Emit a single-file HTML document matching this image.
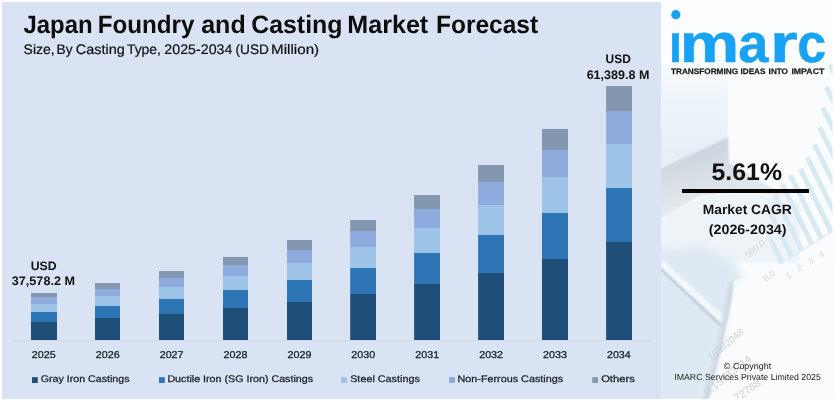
<!DOCTYPE html>
<html lang="en"><head><meta charset="utf-8"><title>Japan Foundry and Casting Market Forecast</title>
<style>
html,body{margin:0;padding:0;background:#fff;}
body{width:835px;height:401px;overflow:hidden;font-family:"Liberation Sans",sans-serif;}
svg{display:block;}
text{font-family:"Liberation Sans",sans-serif;}
.logo{font-weight:bold;fill:#17a2f3;stroke:#17a2f3;stroke-width:0.5px;}
</style></head>
<body>
<svg width="835" height="401" viewBox="0 0 835 401">
<defs>
<linearGradient id="rpg" x1="0" y1="0" x2="0" y2="1"><stop offset="0" stop-color="#fcfdfe"/><stop offset="1" stop-color="#f8fafc"/></linearGradient>
<linearGradient id="gf" gradientUnits="userSpaceOnUse" x1="690" y1="150" x2="705" y2="215"><stop offset="0" stop-color="#ccd4dd"/><stop offset="1" stop-color="#e9edf1"/></linearGradient>
<linearGradient id="tl" gradientUnits="userSpaceOnUse" x1="0" y1="62" x2="0" y2="170"><stop offset="0" stop-color="#fbfcfe"/><stop offset="0.35" stop-color="#edf4f9"/><stop offset="1" stop-color="#e6eff7"/></linearGradient>
<filter id="b1" x="-20%" y="-20%" width="140%" height="140%"><feGaussianBlur stdDeviation="1"/></filter>
<filter id="b4" x="-20%" y="-20%" width="140%" height="140%"><feGaussianBlur stdDeviation="4"/></filter>
<filter id="b6" x="-20%" y="-20%" width="140%" height="140%"><feGaussianBlur stdDeviation="6"/></filter>
<filter id="b2" x="-20%" y="-20%" width="140%" height="140%"><feGaussianBlur stdDeviation="2"/></filter>
<clipPath id="rp"><rect x="661" y="2" width="171.5" height="397"/></clipPath>
<clipPath id="nodot"><rect x="660" y="31" width="175" height="40"/></clipPath>
</defs>
<rect x="0" y="0" width="835" height="401" fill="#ffffff"/>
<rect x="2" y="2" width="659" height="397" fill="#dae3f3"/>
<!-- right panel -->
<g clip-path="url(#rp)">
<rect x="660" y="2" width="173" height="397" fill="#f7f9fb"/>
<rect x="660" y="0" width="175" height="401" fill="url(#rpg)"/>
<polygon points="655,62 728,62 728,137 655,171" fill="url(#tl)" filter="url(#b1)"/>
<polygon points="655,171 728,137 729,163 790,198 745,191 700,196 655,222" fill="url(#gf)" filter="url(#b1)"/>
<polygon points="655,223 700,197 745,192 800,202 800,262 655,262" fill="#eef3f8" filter="url(#b1)"/>
<polygon points="650,252 700,246 736,262 746,286 722,336 704,405 650,405" fill="#dfe9f3" filter="url(#b4)"/>
<line x1="650" y1="258.5" x2="722" y2="326" stroke="#b9c7d3" stroke-width="3" filter="url(#b1)"/>
<line x1="651" y1="253.5" x2="724" y2="321" stroke="#f4f8fb" stroke-width="6.5" filter="url(#b1)"/>
<path d="M733,282 C729,312 720,350 705,405" fill="none" stroke="#cbd7e2" stroke-width="7" filter="url(#b2)"/>
<path d="M734,280 C731,312 722,350 708,405 L835,405 L835,262 Z" fill="#f9fbfc" filter="url(#b1)"/>
<polygon points="766.9,238.0 771.3,235.7 784.2,261.6 779.8,264.3" fill="#d7eaf4"/>
<polygon points="768.6,215.0 773.0,212.7 794.2,255.5 789.8,258.2" fill="#d7eaf4"/>
<polygon points="772.3,196.0 776.7,193.7 804.2,249.3 799.8,252.0" fill="#d7eaf4"/>
<polygon points="780.0,185.2 784.4,182.9 814.1,243.1 809.7,245.8" fill="#d7eaf4"/>
<polygon points="788.0,176.0 792.4,173.7 823.7,237.2 819.3,239.9" fill="#d7eaf4"/>
<polygon points="798.1,170.1 802.5,167.8 833.7,231.0 829.3,233.7" fill="#d7eaf4"/>
<polygon points="805.0,158.4 809.4,156.1 843.4,225.0 839.0,227.7" fill="#d7eaf4"/>
<polygon points="812.4,145.7 816.8,143.4 853.8,218.5 849.4,221.2" fill="#d7eaf4"/>
<polygon points="817.4,128.6 821.8,126.3 864.1,212.1 859.7,214.8" fill="#d7eaf4"/>
<polygon points="820.5,108.7 824.9,106.4 873.9,206.1 869.5,208.8" fill="#d7eaf4"/>
<polygon points="823.9,88.0 828.3,85.7 884.3,199.6 879.9,202.3" fill="#d7eaf4"/>
<polygon points="828.0,66.0 832.4,63.7 895.7,192.5 891.3,195.2" fill="#d7eaf4"/>
<line x1="781" y1="263.6" x2="835" y2="230" stroke="#e2ebf2" stroke-width="1.2"/>
<line x1="781" y1="263.6" x2="752" y2="205" stroke="#e6edf3" stroke-width="1"/>
<text x="748" y="258" font-size="9" fill="#cfd6de" transform="rotate(-38 748 258)">500.0</text>
<text x="766" y="282" font-size="9" fill="#cfd6de" transform="rotate(-38 766 282)">0.0</text>
<text x="788" y="279" font-size="9" fill="#cfe0ec" transform="rotate(-32 788 279)" textLength="44">1 2 3 4</text>
<text x="711" y="361" font-size="9.8" fill="#c9d0d8" transform="rotate(-40 711 361)">16982048</text>
<text x="708" y="396" font-size="10.8" fill="#c9d0d8" transform="rotate(-39 708 396)">0.15783714</text>
<text x="737" y="402" font-size="10.8" fill="#c9d0d8" transform="rotate(-35 737 402)">72768</text>
</g>
<!-- chart -->
<rect x="12" y="340" width="640" height="1" fill="#d3d8e0"/>
<rect x="31.0" y="293" width="26.0" height="4" fill="#8497b0"/>
<rect x="31.0" y="297" width="26.0" height="7" fill="#8faadc"/>
<rect x="31.0" y="304" width="26.0" height="8" fill="#9dc3e6"/>
<rect x="31.0" y="312" width="26.0" height="10" fill="#2e75b6"/>
<rect x="31.0" y="322" width="26.0" height="18" fill="#1f4e79"/>
<rect x="95.0" y="283" width="25.0" height="6" fill="#8497b0"/>
<rect x="95.0" y="289" width="25.0" height="7" fill="#8faadc"/>
<rect x="95.0" y="296" width="25.0" height="10" fill="#9dc3e6"/>
<rect x="95.0" y="306" width="25.0" height="12" fill="#2e75b6"/>
<rect x="95.0" y="318" width="25.0" height="22" fill="#1f4e79"/>
<rect x="159.0" y="271" width="25.0" height="7" fill="#8497b0"/>
<rect x="159.0" y="278" width="25.0" height="9" fill="#8faadc"/>
<rect x="159.0" y="287" width="25.0" height="12" fill="#9dc3e6"/>
<rect x="159.0" y="299" width="25.0" height="15" fill="#2e75b6"/>
<rect x="159.0" y="314" width="25.0" height="26" fill="#1f4e79"/>
<rect x="223.0" y="257" width="25.0" height="8" fill="#8497b0"/>
<rect x="223.0" y="265" width="25.0" height="11" fill="#8faadc"/>
<rect x="223.0" y="276" width="25.0" height="14" fill="#9dc3e6"/>
<rect x="223.0" y="290" width="25.0" height="18" fill="#2e75b6"/>
<rect x="223.0" y="308" width="25.0" height="32" fill="#1f4e79"/>
<rect x="287.0" y="240" width="25.0" height="10" fill="#8497b0"/>
<rect x="287.0" y="250" width="25.0" height="13" fill="#8faadc"/>
<rect x="287.0" y="263" width="25.0" height="17" fill="#9dc3e6"/>
<rect x="287.0" y="280" width="25.0" height="22" fill="#2e75b6"/>
<rect x="287.0" y="302" width="25.0" height="38" fill="#1f4e79"/>
<rect x="350.2" y="220" width="25.8" height="11" fill="#8497b0"/>
<rect x="350.2" y="231" width="25.8" height="16" fill="#8faadc"/>
<rect x="350.2" y="247" width="25.8" height="21" fill="#9dc3e6"/>
<rect x="350.2" y="268" width="25.8" height="26" fill="#2e75b6"/>
<rect x="350.2" y="294" width="25.8" height="46" fill="#1f4e79"/>
<rect x="414.1" y="195" width="25.9" height="14" fill="#8497b0"/>
<rect x="414.1" y="209" width="25.9" height="19" fill="#8faadc"/>
<rect x="414.1" y="228" width="25.9" height="25" fill="#9dc3e6"/>
<rect x="414.1" y="253" width="25.9" height="31" fill="#2e75b6"/>
<rect x="414.1" y="284" width="25.9" height="56" fill="#1f4e79"/>
<rect x="478.1" y="165" width="25.9" height="17" fill="#8497b0"/>
<rect x="478.1" y="182" width="25.9" height="23" fill="#8faadc"/>
<rect x="478.1" y="205" width="25.9" height="30" fill="#9dc3e6"/>
<rect x="478.1" y="235" width="25.9" height="38" fill="#2e75b6"/>
<rect x="478.1" y="273" width="25.9" height="67" fill="#1f4e79"/>
<rect x="542.0" y="129" width="26.0" height="21" fill="#8497b0"/>
<rect x="542.0" y="150" width="26.0" height="27" fill="#8faadc"/>
<rect x="542.0" y="177" width="26.0" height="36" fill="#9dc3e6"/>
<rect x="542.0" y="213" width="26.0" height="46" fill="#2e75b6"/>
<rect x="542.0" y="259" width="26.0" height="81" fill="#1f4e79"/>
<rect x="606.1" y="86" width="25.9" height="25" fill="#8497b0"/>
<rect x="606.1" y="111" width="25.9" height="33" fill="#8faadc"/>
<rect x="606.1" y="144" width="25.9" height="44" fill="#9dc3e6"/>
<rect x="606.1" y="188" width="25.9" height="54" fill="#2e75b6"/>
<rect x="606.1" y="242" width="25.9" height="98" fill="#1f4e79"/>
<rect x="32" y="377.2" width="5.8" height="5.8" fill="#1f4e79"/>
<rect x="159" y="377.2" width="5.8" height="5.8" fill="#2e75b6"/>
<rect x="341.2" y="377.2" width="5.8" height="5.8" fill="#9dc3e6"/>
<rect x="449.2" y="377.2" width="5.8" height="5.8" fill="#8faadc"/>
<rect x="592.2" y="377.2" width="5.8" height="5.8" fill="#8497b0"/>
<g transform="matrix(1 0 0.0006 1 0 0)">
<text x="31.65" y="357.9" font-size="9.9" font-weight="normal" fill="#1b1f27" textLength="23.96" lengthAdjust="spacingAndGlyphs" stroke="#1b1f27" stroke-width="0.28">2025</text>
<text x="95.55" y="357.9" font-size="9.9" font-weight="normal" fill="#1b1f27" textLength="23.96" lengthAdjust="spacingAndGlyphs" stroke="#1b1f27" stroke-width="0.28">2026</text>
<text x="159.45" y="357.9" font-size="9.9" font-weight="normal" fill="#1b1f27" textLength="23.96" lengthAdjust="spacingAndGlyphs" stroke="#1b1f27" stroke-width="0.28">2027</text>
<text x="223.35" y="357.9" font-size="9.9" font-weight="normal" fill="#1b1f27" textLength="23.96" lengthAdjust="spacingAndGlyphs" stroke="#1b1f27" stroke-width="0.28">2028</text>
<text x="287.25" y="357.9" font-size="9.9" font-weight="normal" fill="#1b1f27" textLength="23.96" lengthAdjust="spacingAndGlyphs" stroke="#1b1f27" stroke-width="0.28">2029</text>
<text x="351.15" y="357.9" font-size="9.9" font-weight="normal" fill="#1b1f27" textLength="23.96" lengthAdjust="spacingAndGlyphs" stroke="#1b1f27" stroke-width="0.28">2030</text>
<text x="415.05" y="357.9" font-size="9.9" font-weight="normal" fill="#1b1f27" textLength="23.96" lengthAdjust="spacingAndGlyphs" stroke="#1b1f27" stroke-width="0.28">2031</text>
<text x="478.95" y="357.9" font-size="9.9" font-weight="normal" fill="#1b1f27" textLength="23.96" lengthAdjust="spacingAndGlyphs" stroke="#1b1f27" stroke-width="0.28">2032</text>
<text x="542.85" y="357.9" font-size="9.9" font-weight="normal" fill="#1b1f27" textLength="23.96" lengthAdjust="spacingAndGlyphs" stroke="#1b1f27" stroke-width="0.28">2033</text>
<text x="606.76" y="357.9" font-size="9.9" font-weight="normal" fill="#1b1f27" textLength="23.67" lengthAdjust="spacingAndGlyphs" stroke="#1b1f27" stroke-width="0.28">2034</text>
<text x="40.44" y="382.2" font-size="9.6" font-weight="normal" fill="#1e222a" textLength="88.82" lengthAdjust="spacingAndGlyphs" stroke="#1e222a" stroke-width="0.28">Gray Iron Castings</text>
<text x="167.16" y="382.2" font-size="9.6" font-weight="normal" fill="#1e222a" textLength="145.67" lengthAdjust="spacingAndGlyphs" stroke="#1e222a" stroke-width="0.28">Ductile Iron (SG Iron) Castings</text>
<text x="349.94" y="382.2" font-size="9.6" font-weight="normal" fill="#1e222a" textLength="69.67" lengthAdjust="spacingAndGlyphs" stroke="#1e222a" stroke-width="0.28">Steel Castings</text>
<text x="457.26" y="382.2" font-size="9.6" font-weight="normal" fill="#1e222a" textLength="105.63" lengthAdjust="spacingAndGlyphs" stroke="#1e222a" stroke-width="0.28">Non-Ferrous Castings</text>
<text x="600.92" y="382.2" font-size="9.6" font-weight="normal" fill="#1e222a" textLength="33.63" lengthAdjust="spacingAndGlyphs" stroke="#1e222a" stroke-width="0.28">Others</text>
</g>
<!-- logo -->
<g clip-path="url(#nodot)"><g transform="matrix(1 0 0.0006 1 0 0)"><text y="62.5" font-size="54.2" class="logo"><tspan x="669.00" textLength="13.05" lengthAdjust="spacingAndGlyphs">i</tspan><tspan x="679.83" textLength="59.46" lengthAdjust="spacingAndGlyphs">m</tspan><tspan x="738.25" textLength="30.14" lengthAdjust="spacingAndGlyphs">a</tspan><tspan x="770.05" textLength="27.71" lengthAdjust="spacingAndGlyphs">r</tspan><tspan x="797.23" textLength="28.89" lengthAdjust="spacingAndGlyphs">c</tspan></text></g></g>
<circle cx="675.8" cy="14.7" r="4.6" fill="#17a2f3"/>
<g transform="matrix(1 0 0.0006 1 0 0)">
<text y="32.9" font-size="25.2" font-weight="bold" fill="#0d0d0d"><tspan x="23.43" textLength="69.14" lengthAdjust="spacingAndGlyphs">Japan</tspan> <tspan x="97.62" textLength="96.82" lengthAdjust="spacingAndGlyphs">Foundry</tspan> <tspan x="201.15" textLength="44.52" lengthAdjust="spacingAndGlyphs">and</tspan> <tspan x="251.11" textLength="91.40" lengthAdjust="spacingAndGlyphs">Casting</tspan> <tspan x="347.26" textLength="80.95" lengthAdjust="spacingAndGlyphs">Market</tspan> <tspan x="435.90" textLength="102.25" lengthAdjust="spacingAndGlyphs">Forecast</tspan></text>
<text y="53.6" font-size="13.8" font-weight="normal" fill="#111" stroke="#111" stroke-width="0.2"><tspan x="23.54" textLength="31.06" lengthAdjust="spacingAndGlyphs">Size,</tspan> <tspan x="56.45" textLength="16.05" lengthAdjust="spacingAndGlyphs">By</tspan> <tspan x="75.71" textLength="49.00" lengthAdjust="spacingAndGlyphs">Casting</tspan> <tspan x="126.85" textLength="34.12" lengthAdjust="spacingAndGlyphs">Type,</tspan> <tspan x="164.33" textLength="68.07" lengthAdjust="spacingAndGlyphs">2025-2034</tspan> <tspan x="235.46" textLength="33.37" lengthAdjust="spacingAndGlyphs">(USD</tspan> <tspan x="271.02" textLength="48.13" lengthAdjust="spacingAndGlyphs">Million)</tspan></text>
<text x="30.54" y="269.6" font-size="12.2" font-weight="bold" fill="#111" textLength="25.94" lengthAdjust="spacingAndGlyphs">USD</text>
<text x="11.65" y="285.5" font-size="12.4" font-weight="bold" fill="#111" textLength="63.12" lengthAdjust="spacingAndGlyphs">37,578.2 M</text>
<text x="605.57" y="62.9" font-size="12.3" font-weight="bold" fill="#111" textLength="25.29" lengthAdjust="spacingAndGlyphs">USD</text>
<text x="586.59" y="78.9" font-size="12.4" font-weight="bold" fill="#111" textLength="62.77" lengthAdjust="spacingAndGlyphs">61,389.8 M</text>
<text y="74.3" font-size="8.0" font-weight="bold" fill="#1c1c1c" stroke="#1c1c1c" stroke-width="0.25"><tspan x="670.90" textLength="67.09" lengthAdjust="spacingAndGlyphs">TRANSFORMING</tspan> <tspan x="740.49" textLength="24.92" lengthAdjust="spacingAndGlyphs">IDEAS</tspan> <tspan x="768.59" textLength="19.33" lengthAdjust="spacingAndGlyphs">INTO</tspan> <tspan x="791.35" textLength="32.93" lengthAdjust="spacingAndGlyphs">IMPACT</tspan></text>
<text x="711.42" y="180.3" font-size="24.0" font-weight="bold" fill="#111" textLength="70.56" lengthAdjust="spacingAndGlyphs">5.61%</text>
<text x="702.58" y="213.9" font-size="13.5" font-weight="bold" fill="#111" textLength="89.11" lengthAdjust="spacingAndGlyphs">Market CAGR</text>
<text x="708.61" y="234.3" font-size="13.5" font-weight="bold" fill="#111" textLength="77.79" lengthAdjust="spacingAndGlyphs">(2026-2034)</text>
<text x="723.65" y="368.7" font-size="8.8" font-weight="normal" fill="#222" textLength="47.33" lengthAdjust="spacingAndGlyphs">© Copyright</text>
<text x="674.05" y="380.5" font-size="8.8" font-weight="normal" fill="#222" textLength="146.57" lengthAdjust="spacingAndGlyphs">IMARC Services Private Limited 2025</text>
</g>
<rect x="682" y="189" width="127" height="4" fill="#050505"/>
</svg>
</body></html>
